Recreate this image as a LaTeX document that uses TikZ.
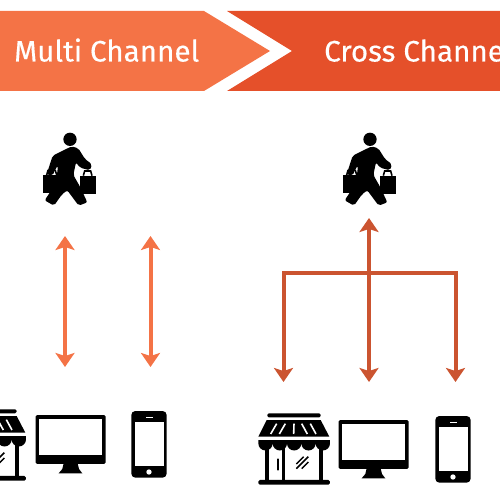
\documentclass[tikz,border=0pt]{standalone}
\usepackage{fontspec}
\setmainfont{Fira Sans}[FakeBold=0.35]
\usetikzlibrary{arrows.meta}
\definecolor{lightorange}{HTML}{F47346}
\definecolor{deeporange}{HTML}{E5502A}
\definecolor{rust}{HTML}{CB5430}
\tikzset{
  banner/.style={text=white,font=\fontsize{29.6}{32}\selectfont,inner sep=0pt,anchor=base west},
  multilink/.style={draw=lightorange,line width=4pt,{Stealth[length=14pt,width=19pt,inset=3pt]}-{Stealth[length=14pt,width=19pt,inset=3pt]}},
  crossdown/.style={draw=rust,line width=4pt,-{Stealth[length=14pt,width=19pt,inset=3pt]}},
  crossbar/.style={draw=rust,line width=4pt,line cap=rect},
  icon/.style={x=0.3333pt,y=-0.3333pt}
}
\newcommand{\shopper}{%
  \fill (120,43) circle (20);
  \fill[rounded corners=2pt] (68,92) -- (125,64) -- (145,70) -- (165,102) -- (186,118) -- (180,136) -- (150,128) -- (138,112)
     -- (130,150) -- (150,185) -- (172,232) -- (146,242) -- (112,196) -- (96,208) -- (72,242) -- (44,226)
     -- (78,175) -- (84,122) -- (76,132) -- (68,152) -- (50,148) -- cycle;
  \fill (39,150) rectangle (92,204);
  \fill (150,152) rectangle (198,206);
  \draw[line width=1.6pt] (50,150) -- (54,136) -- (76,136) -- (80,150);
  \draw[line width=1.6pt] (160,152) -- (164,138) -- (182,138) -- (186,152);
}
\newcommand{\storefront}{%
  \fill[rounded corners=1.5pt] (52,40) rectangle (212,52);
  \fill (50,60) -- (212,60) -- (238,110) -- (25,110) -- cycle;
  \draw[white,line width=1.6pt] (80,71) -- (62,102) (106,71) -- (88,102) (132,71) -- (131,102) (155,71) -- (172,102) (181,71) -- (198,102);
  \fill (25,120) -- (240,120) -- (240,130) arc[start angle=0,end angle=180,radius=21.5]
     arc[start angle=0,end angle=180,radius=21.5] arc[start angle=0,end angle=180,radius=21.5]
     arc[start angle=0,end angle=180,radius=21.5] arc[start angle=0,end angle=180,radius=21.5] -- cycle;
  \fill (45,140) rectangle (57,245);
  \fill (95,140) rectangle (106,245);
  \fill (207,140) rectangle (219,245);
  \fill[rounded corners=1.5pt] (25,240) rectangle (240,254);
  \draw[line width=2.2pt,line cap=round] (83,178) -- (83,209);
  \draw[line width=1.5pt] (139,192) -- (161,170) (139,206) -- (175,170) (155,206) -- (175,186);
}
\newcommand{\monitor}{%
  \fill[rounded corners=1.5pt] (266,60) rectangle (476,207);
  \fill[white] (277,72) rectangle (466,180);
  \fill (350,205) -- (392,205) -- (396,222) -- (406,235) -- (335,235) -- (346,222) -- cycle;
}
\newcommand{\smartphone}{%
  \fill[rounded corners=4pt] (556,48) rectangle (662,248);
  \fill[white] (566,82) rectangle (654,214);
  \fill[white] (599,66) rectangle (621,70);
  \fill[white] (609,231) circle (8);
}
\begin{document}
\begin{tikzpicture}[x=1pt,y=-1pt]
\useasboundingbox (0,0) rectangle (500,500);
\clip (0,0) rectangle (500,500);
\fill[lightorange] (0,11) -- (204,11) -- (270,51) -- (204,91) -- (0,91) -- cycle;
\fill[deeporange] (227,11) -- (500,11) -- (500,91) -- (227,91) -- (292,51) -- cycle;
\node[banner] (multi) at (14,61.5) {Multi Channel};
\node[banner] (cross) at (324,61.5) {Cross Channel};
% shoppers
\begin{scope}[shift={(30,125)},icon] \shopper \end{scope}
\begin{scope}[shift={(330,125)},icon] \shopper \end{scope}
% devices, right
\begin{scope}[shift={(250,400)},icon] \storefront \monitor \smartphone \end{scope}
% devices, left
\begin{scope}[shift={(-54,396)},icon] \storefront \end{scope}
\begin{scope}[shift={(-53,395)},icon] \monitor \end{scope}
\begin{scope}[shift={(-54,395)},icon] \smartphone \end{scope}
% connectors
\coordinate (a1) at (65,236); \coordinate (b1) at (65,367);
\coordinate (a2) at (150.5,236); \coordinate (b2) at (150.5,367);
\draw[multilink] (a1) -- (b1);
\draw[multilink] (a2) -- (b2);
\coordinate (top) at (369,218);
\coordinate (hub) at (369,273);
\coordinate (left) at (283.5,273);
\coordinate (right) at (455.5,273);
\coordinate (dl) at (283.5,382);
\coordinate (dm) at (369,382);
\coordinate (dr) at (455.5,382);
\draw[crossdown] (hub) -- (top);
\draw[crossdown] (hub) -- (dm);
\draw[crossbar] (left) -- (right);
\draw[crossdown] (left) -- (dl);
\draw[crossdown] (right) -- (dr);
\end{tikzpicture}
\end{document}
